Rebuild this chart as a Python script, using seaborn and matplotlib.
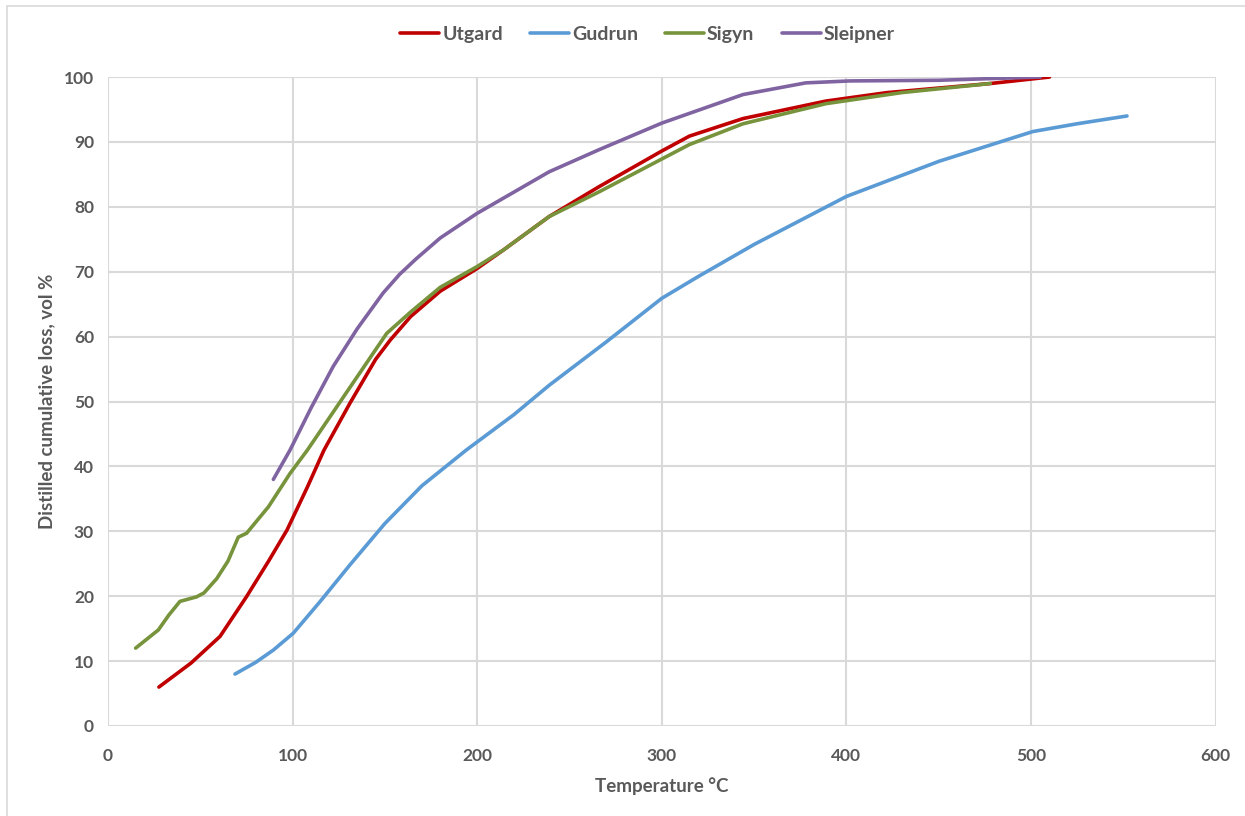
import pandas as pd
import matplotlib
matplotlib.use("Agg")
import matplotlib.pyplot as plt
import seaborn as sns
from matplotlib.lines import Line2D

# values (temperature °C, cumulative vol %)
utgard_t = [27.6, 45, 60.7, 75, 87, 97, 108, 117, 131, 145, 153, 164, 180, 200, 214, 239, 266, 300, 315, 344, 389, 422, 478, 510]
utgard_v = [6.0, 9.7, 13.8, 19.9, 25.4, 30.2, 36.8, 42.5, 49.7, 56.5, 59.5, 63.1, 67.0, 70.5, 73.3, 78.5, 83.1, 88.6, 90.9, 93.6, 96.3, 97.6, 99.0, 100]

gudrun_t = [68.8, 80, 89.6, 100.4, 115, 131, 150, 170, 194, 220, 239, 270, 300, 320, 350, 400, 450, 501, 525, 552]
gudrun_v = [8.0, 9.8, 11.7, 14.3, 19.2, 24.8, 31.2, 37.0, 42.5, 48.0, 52.5, 59.2, 65.9, 69.3, 74.2, 81.6, 87.0, 91.6, 92.8, 94.0]

sigyn_t = [15, 27.3, 33, 39, 48, 52, 58.9, 65, 70.6, 75.1, 87, 98.6, 108, 129, 151, 164, 180, 200, 214, 239, 266, 315, 344, 389, 430, 478]
sigyn_v = [12, 14.8, 17.1, 19.2, 19.9, 20.5, 22.7, 25.4, 29.1, 29.7, 33.8, 38.9, 42.5, 51.3, 60.5, 63.8, 67.6, 70.8, 73.3, 78.5, 82.3, 89.6, 92.8, 95.9, 97.6, 99.0]

sleipner_t = [89.6, 98.6, 110, 122, 135, 149, 158, 167, 180, 200, 239, 266, 300, 344, 378, 402, 450, 505]
sleipner_v = [38, 42.5, 49, 55.4, 61.2, 66.7, 69.6, 72.0, 75.2, 79, 85.4, 88.8, 92.9, 97.3, 99.1, 99.4, 99.5, 100]

names = ["Utgard", "Gudrun", "Sigyn", "Sleipner"]
colors = ["#C00000", "#5B9BD5", "#77933C", "#8064A2"]

frames = []
for name, t, v in [("Utgard", utgard_t, utgard_v), ("Gudrun", gudrun_t, gudrun_v),
                   ("Sigyn", sigyn_t, sigyn_v), ("Sleipner", sleipner_t, sleipner_v)]:
    frames.append(pd.DataFrame({"Temperature": t, "Loss": v, "Field": name}))
df = pd.concat(frames, ignore_index=True)

sns.set_style("white")
plt.rcParams["font.family"] = ["Lato", "DejaVu Sans"]

fig = plt.figure(figsize=(12.45, 8.16), dpi=100)
ax = fig.add_axes([0.0867, 0.1103, 0.8897, 0.7953])

sns.lineplot(data=df, x="Temperature", y="Loss", hue="Field", hue_order=names,
             palette=colors, sort=False, estimator=None, linewidth=2.6,
             legend=False, ax=ax, zorder=3)
for ln in ax.get_lines():
    ln.set_solid_joinstyle("round")
    ln.set_solid_capstyle("round")

ax.set_xlim(0, 600)
ax.set_ylim(0, 100)
ax.set_xticks(range(0, 601, 100))
ax.set_yticks(range(0, 101, 10))
ax.grid(True, color="#D9D9D9", linewidth=1.5)
for s in ax.spines.values():
    s.set_visible(False)
ax.tick_params(length=0, labelsize=12.5, colors="#595959", pad=10)
for lab in ax.get_xticklabels() + ax.get_yticklabels():
    lab.set_fontweight("bold")
ax.tick_params(axis="x", pad=16)

ax.set_xlabel("Temperature °C", fontsize=13.5, fontweight="bold", color="#595959", labelpad=9)
ax.set_ylabel("Distilled cumulative loss, vol %", fontsize=13.5, fontweight="bold", color="#595959", labelpad=6)

handles = [Line2D([0], [0], color=c, linewidth=2.6) for c in colors]
fig.legend(handles, names, loc="center", bbox_to_anchor=(0.52, 0.958), ncol=4, frameon=False,
           prop={"size": 14, "weight": "bold"}, labelcolor="#595959",
           handlelength=2.0, handletextpad=0.15, columnspacing=1.4)

# light chart-area border (only left and top visible in the reference)
border = plt.Rectangle((0.0056, -0.05), 1.2, 1.0426, transform=fig.transFigure,
                       fill=False, edgecolor="#D9D9D9", linewidth=1.2)
fig.patches.append(border)

fig.savefig("out.png", dpi=100)
